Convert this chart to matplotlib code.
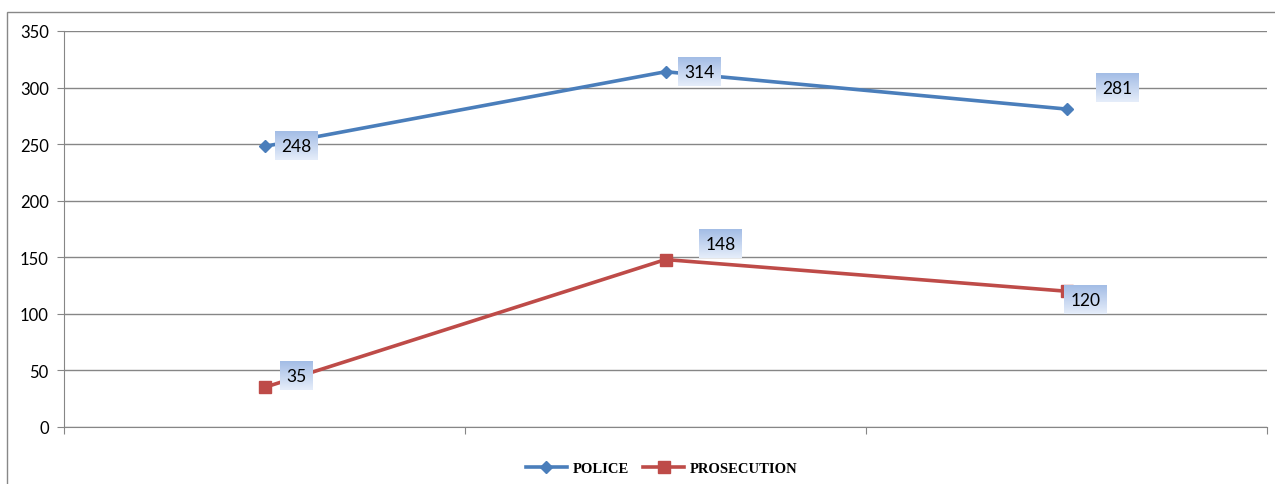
import matplotlib.pyplot as plt
import numpy as np
from matplotlib.patches import Rectangle

categories = ["", "", ""]
police = [248, 314, 281]
prosecution = [35, 148, 120]
# label offsets in pixels from each point (dx, dy)
police_offsets = [(32, 0), (34, 0), (51, 21)]
prosecution_offsets = [(32, 11), (55, 16), (19, -9)]

BLUE = "#4a7ebb"
RED = "#be4b48"
GRID = "#868686"

plt.rcParams["font.family"] = ["Lato", "DejaVu Sans"]

fig = plt.figure(figsize=(12.75, 4.85), dpi=100)
ax = fig.add_axes([64 / 1275, 57 / 485, 1203 / 1275, 396 / 485])

x = np.arange(len(categories))
ax.plot(x, police, color=BLUE, lw=2.6, marker="D", ms=6.5, label="POLICE", zorder=3)
ax.plot(x, prosecution, color=RED, lw=2.6, marker="s", ms=8, label="PROSECUTION", zorder=3)

ax.set_xlim(-0.5, len(categories) - 0.5)
ax.set_ylim(0, 350)
ax.set_yticks(np.arange(0, 351, 50))
ax.set_xticks(np.arange(-0.5, len(categories), 1.0))
ax.set_xticklabels([])
ax.tick_params(axis="y", length=5, color=GRID, labelsize=12, pad=6)
ax.tick_params(axis="x", length=5, color=GRID)
ax.grid(axis="y", color=GRID, lw=1)
ax.set_axisbelow(True)
for s in ("top", "right"):
    ax.spines[s].set_visible(False)
for s in ("left", "bottom"):
    ax.spines[s].set_color(GRID)

texts = []
for vals, offs in ((police, police_offsets), (prosecution, prosecution_offsets)):
    for xi, v, (dx, dy) in zip(x, vals, offs):
        t = ax.annotate(str(v), (xi, v), xytext=(dx, dy), textcoords="offset pixels",
                        ha="center", va="center", fontsize=12.5, zorder=6,
                        bbox=dict(boxstyle="square,pad=0.35", fc="none", ec="none"))
        texts.append(t)

leg = ax.legend(loc="upper center", bbox_to_anchor=(0.497, -0.055), ncol=2, frameon=False,
                prop={"family": "Liberation Serif", "weight": "bold", "size": 10.5},
                handlelength=2.8, columnspacing=1.0, handletextpad=0.4)

# outer chart frame
fig.add_artist(Rectangle((7 / 1275, -0.1), 1.2, (485 - 13) / 485 + 0.1,
                         transform=fig.transFigure, fill=False, ec="#888888", lw=1))

# gradient fill behind data labels
fig.canvas.draw()
renderer = fig.canvas.get_renderer()
grad = np.linspace(0, 1, 50)[:, None]
top = np.array([0.64, 0.74, 0.90])
bot = np.array([0.90, 0.93, 0.98])
img = (top[None, None, :] * (1 - grad[..., None]) + bot[None, None, :] * grad[..., None])
img = np.repeat(img, 2, axis=1)
inv = ax.transData.inverted()
for t in texts:
    bb = t.get_bbox_patch().get_window_extent(renderer)
    (x0, y0), (x1, y1) = inv.transform([[bb.x0, bb.y0], [bb.x1, bb.y1]])
    ax.imshow(img, extent=(x0, x1, y0, y1), aspect="auto", zorder=5, interpolation="bilinear")
ax.set_xlim(-0.5, len(categories) - 0.5)
ax.set_ylim(0, 350)

fig.savefig("out.png", dpi=100)
